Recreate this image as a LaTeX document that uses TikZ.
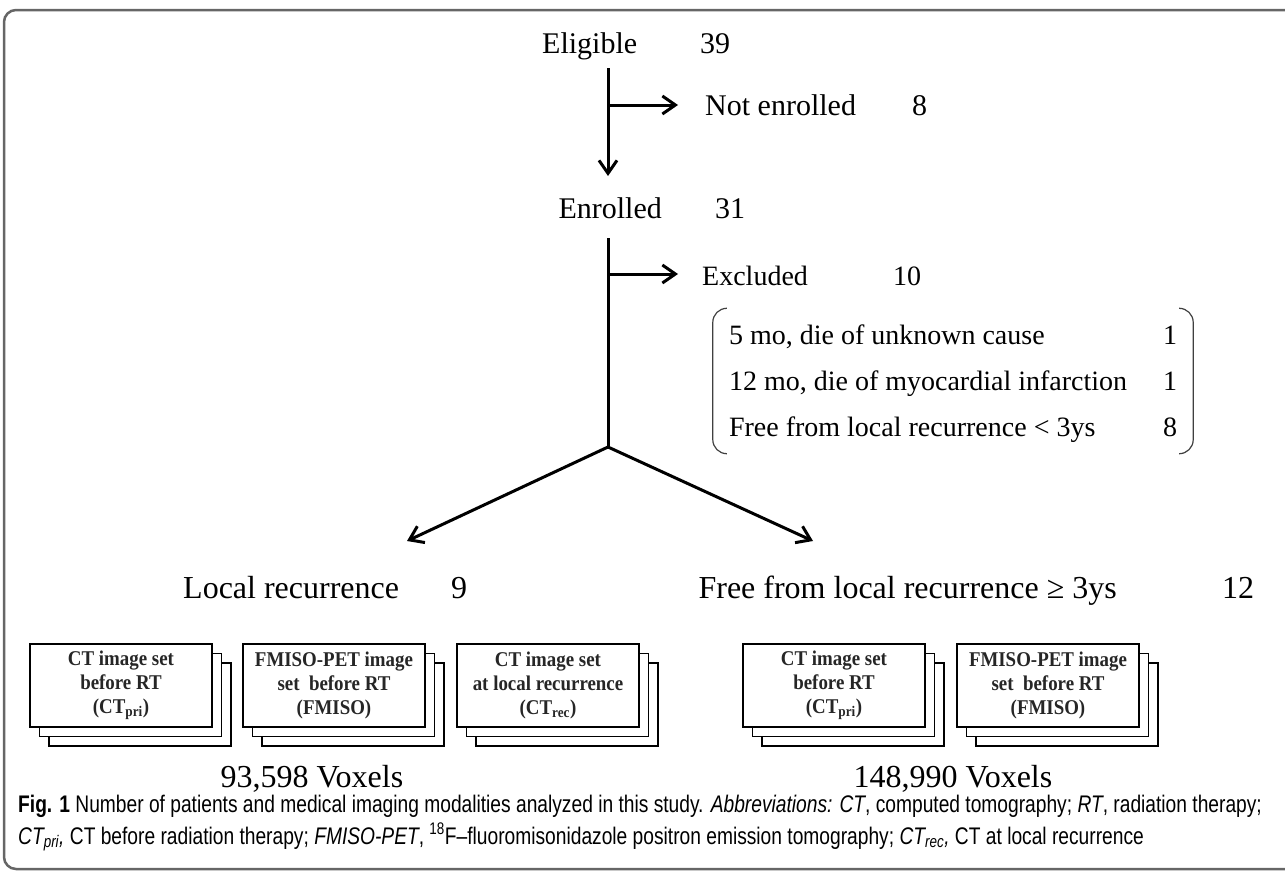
\documentclass[tikz,border=0pt]{standalone}
\usepackage{fontspec}
\setmainfont{Liberation Serif}
\newfontfamily\capfont[FakeStretch=0.8]{Liberation Sans}
\newfontfamily\boxfont[FakeStretch=0.9]{Liberation Serif}
\usetikzlibrary{arrows.meta,shadows,calc,positioning}
\tikzset{
    lbl/.style={inner sep=0pt, anchor=base west, font=\fontsize{30}{36}\selectfont},
    biglbl/.style={inner sep=0pt, anchor=base, font=\fontsize{32}{38}\selectfont},
    caplbl/.style={inner sep=0pt, anchor=base west, font=\capfont\fontsize{24}{30}\selectfont},
    stem/.style={line width=3pt},
    arr/.style={line width=3pt, -{Straight Barb[length=13pt,width=18pt]}},
    imgset/.style={
            draw, line width=1.5pt, fill=white, inner sep=0pt, align=center,
            minimum width=182pt, minimum height=83pt, text=black!85,
            font=\boxfont\fontsize{21}{24}\selectfont\bfseries,
            copy shadow={shadow xshift=19pt, shadow yshift=-19pt, draw, fill=white, line width=1.5pt},
            copy shadow={shadow xshift=9.5pt, shadow yshift=-9.5pt, draw, fill=white, line width=1.5pt}
        },
    brk/.style={line width=1.2pt, black!75, rounded corners=14pt},
}

\begin{document}
\begin{tikzpicture}[x=1pt, y=-1pt]
        \useasboundingbox (0,0) rectangle (1285,873);
        %frame
        \draw[black!60, line width=2.5pt, rounded corners=12pt] (1290,10) -- (4,10) -- (4,869) -- (1290,869);
        %top of the flow
        \node[lbl] (elig) at (542,53) {Eligible};
        \node[lbl] (elign) at (700,53) {39};
        \node[lbl] (notenr) at (705,115) {Not enrolled};
        \node[lbl] (notenrn) at (912,115) {8};
        \node[lbl, anchor=base east] (enr) at (662,218) {Enrolled};
        \node[lbl] (enrn) at (715,218) {31};
        \node[lbl, font=\fontsize{28}{34}\selectfont] (excl) at (702,285) {Excluded};
        \node[lbl, font=\fontsize{28}{34}\selectfont] (excln) at (893,285) {10};
        %reasons for exclusion
        \node[minimum width=480pt, minimum height=145pt, inner sep=0pt, font=\fontsize{28}{46}\selectfont] (reasons) at (953,381)
            {\begin{tabular*}{448pt}{@{}l@{\extracolsep{\fill}}r@{}}
                5 mo, die of unknown cause & 1\\
                12 mo, die of myocardial infarction & 1\\
                Free from local recurrence < 3ys & 8
            \end{tabular*}};
        \draw[brk] ($(reasons.north west)+(13,0)$) -- (reasons.north west) -- (reasons.south west) -- ($(reasons.south west)+(13,0)$);
        \draw[brk] ($(reasons.north east)+(-13,0)$) -- (reasons.north east) -- (reasons.south east) -- ($(reasons.south east)+(-13,0)$);
        %connectors
        \coordinate (a1) at (608,68);
        \coordinate (a2) at (608,105);
        \coordinate (a3) at (608,176);
        \coordinate (b1) at (608,238);
        \coordinate (b2) at (608,274);
        \coordinate (split) at (608,447);
        \coordinate (lefttip) at (407,541);
        \coordinate (righttip) at (813,541);
        \draw[arr] (a1) -- (a3);
        \draw[arr, shorten >=27pt] (a2) -- (a2 -| notenr.west);
        \draw[stem] (b1) -- (split);
        \draw[arr, shorten >=24pt] (b2) -- (b2 -| excl.west);
        \draw[arr] (split) -- (lefttip);
        \draw[arr] (split) -- (righttip);
        %groups
        \node[biglbl, anchor=base west] (locrec) at (183,598) {Local recurrence};
        \node[biglbl, anchor=base west] (locrecn) at (451,598) {9};
        \node[biglbl, anchor=base east] (free) at (1117,598) {Free from local recurrence ≥ 3ys};
        \node[biglbl, anchor=base west] (freen) at (1222,598) {12};
        %image sets
        \node[imgset] (ctpri) at (121,685.5) {CT image set\\before RT\\(CT\textsubscript{pri})};
        \node[imgset] (fmiso) at (334,685.5) {FMISO-PET image\\set\ \ before RT\\(FMISO)};
        \node[imgset] (ctrec) at (548,685.5) {CT image set\\at local recurrence\\(CT\textsubscript{rec})};
        \node[imgset] (ctpritwo) at (834,685.5) {CT image set\\before RT\\(CT\textsubscript{pri})};
        \node[imgset] (fmisotwo) at (1048,685.5) {FMISO-PET image\\set\ \ before RT\\(FMISO)};
        %voxel counts
        \node[biglbl] (voxl) at (312,787) {93,598 Voxels};
        \node[biglbl] (voxr) at (953,787) {148,990 Voxels};
        %caption
        \node[caplbl] (capone) at (18,812)
            {\textbf{Fig. 1} Number of patients and medical imaging modalities analyzed in this study. \textit{Abbreviations:} \textit{CT}, computed tomography; \textit{RT}, radiation therapy;};
        \node[caplbl] (captwo) at (18,844)
            {\textit{CT\textsubscript{pri},} CT before radiation therapy; \textit{FMISO-PET}, \textsuperscript{18}F–fluoromisonidazole positron emission tomography; \textit{CT\textsubscript{rec},} CT at local recurrence};
    \end{tikzpicture}
\end{document}
